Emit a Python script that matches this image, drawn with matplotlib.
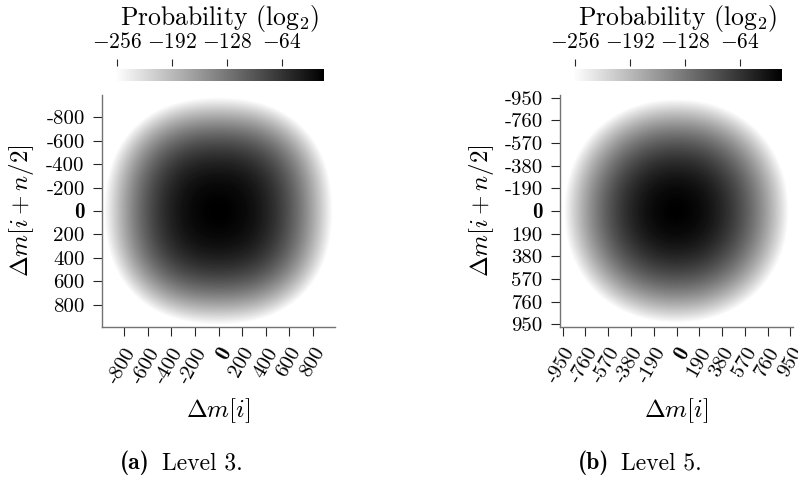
import numpy as np
import matplotlib
matplotlib.use("Agg")
import matplotlib.pyplot as plt

plt.rcParams["font.family"] = "cmr10"
plt.rcParams["mathtext.fontset"] = "cm"
plt.rcParams["axes.unicode_minus"] = False
plt.rcParams["axes.formatter.use_mathtext"] = True

# ---------------- data (log2 probability along the central row) ----------------
offsets_a = [-1000, -900, -800, -700, -600, -500, -400, -300, -200, -100, 0,
             100, 200, 300, 400, 500, 600, 700, 800, 900, 1000]
logp_row_a = [-276, -220, -171, -128, -93, -65, -44.5, -30, -21, -16.5, -15,
              -16.5, -21, -30, -44.5, -65, -93, -128, -171, -220, -276]

offsets_b = [-1045, -950, -855, -760, -665, -570, -475, -380, -285, -190, -95, 0,
             95, 190, 285, 380, 475, 570, 665, 760, 855, 950, 1045]
logp_row_b = [-318, -263, -213, -169, -130, -98, -71, -50, -34, -23, -17, -15,
              -17, -23, -34, -50, -71, -98, -130, -169, -213, -263, -318]

ticks_a = [-800, -600, -400, -200, 0, 200, 400, 600, 800]
ticks_b = [-950, -760, -570, -380, -190, 0, 190, 380, 570, 760, 950]
cbar_ticks = [-256, -192, -128, -64]
cbar_labels = ["$-256$", "$-192$", "$-128$", "$-64$"]
vmin, vmax = -258, -15
captions = [("(a)", "Level 3."), ("(b)", "Level 5.")]

W, H = 798, 487
fig = plt.figure(figsize=(W / 100, H / 100), dpi=100)


def px(left, top, right, bottom):
    return [left / W, 1 - bottom / H, (right - left) / W, (bottom - top) / H]


def field(row):
    r = np.asarray(row, dtype=float)
    centre = r.max()
    return r[:, None] + r[None, :] - centre


panels = [
    dict(off=offsets_a, row=logp_row_a, ticks=ticks_a, lim=990,
         ax=(102, 95, 335, 327), cax=(115, 69, 324, 81),
         ylab_x=22, cap_tag=120, cap_txt=162),
    dict(off=offsets_b, row=logp_row_b, ticks=ticks_b, lim=972,
         ax=(560, 95, 793, 327), cax=(573, 69, 782, 81),
         ylab_x=481, cap_tag=578, cap_txt=621),
]

spine_col = "0.45"
tick_col = "0.15"

for i, p in enumerate(panels):
    ax = fig.add_axes(px(*p["ax"]))
    Z = field(p["row"])
    off = np.asarray(p["off"], dtype=float)
    h = (off[1] - off[0]) / 2
    cmap = plt.get_cmap("gray_r").copy()
    cmap.set_under("white")
    im = ax.imshow(Z, cmap=cmap, vmin=vmin, vmax=vmax,
                   extent=[off[0] - h, off[-1] + h, off[-1] + h, off[0] - h],
                   origin="upper", interpolation="bicubic",
                   interpolation_stage="data", aspect="auto")
    lim = p["lim"]
    ax.set_xlim(-lim, lim)
    ax.set_ylim(lim, -lim)
    for s in ("top", "right"):
        ax.spines[s].set_visible(False)
    for s in ("left", "bottom"):
        ax.spines[s].set_color(spine_col)
        ax.spines[s].set_linewidth(1.0)
    labels = [f"{t}" for t in p["ticks"]]
    ax.set_xticks(p["ticks"])
    ax.set_xticklabels(labels, rotation=60, ha="right", va="top",
                       rotation_mode="anchor", fontsize=15)
    ax.set_yticks(p["ticks"])
    ax.set_yticklabels(labels, fontsize=15)
    for lab in ax.get_xticklabels() + ax.get_yticklabels():
        if lab.get_text() == "0":
            lab.set_family("cmb10")
    ax.tick_params(axis="both", direction="out", length=6.5, width=0.8,
                   color=tick_col)
    ax.tick_params(axis="x", pad=6)
    ax.tick_params(axis="y", pad=6)
    ax.set_xlabel(r"$\Delta m[i]$", fontsize=18)
    ax.set_ylabel(r"$\Delta m[i+n/2]$", fontsize=18)
    l, t, r, b = p["ax"]
    ax.xaxis.set_label_coords(((l + r) / 2 - l) / (r - l), (b - 411) / (b - t))
    ax.yaxis.set_label_coords((p["ylab_x"] - l) / (r - l), (b - 211) / (b - t))
    ax.xaxis.label.set_va("center")
    ax.yaxis.label.set_va("center")

    # colour bar
    cax = fig.add_axes(px(*p["cax"]))
    cb = fig.colorbar(im, cax=cax, orientation="horizontal")
    cb.outline.set_visible(False)
    cax.xaxis.set_ticks_position("top")
    cax.xaxis.set_label_position("top")
    cax.spines["top"].set_position(("outward", 2.5))
    cb.set_ticks(cbar_ticks)
    cb.set_ticklabels(cbar_labels)
    cax.tick_params(axis="x", direction="out", length=5, width=0.8,
                    color=tick_col, labelsize=15.5, pad=5)
    cl, ct, cr, cbm = p["cax"]
    fig.text(((cl + cr) / 2) / W, 1 - 18 / H, r"Probability (log$_2$)",
             ha="center", va="center", fontsize=18.5)

    # caption
    tag, txt = captions[i]
    fig.text(p["cap_tag"] / W, 1 - 463 / H, tag, ha="left",
             va="center", fontsize=17, family="cmb10")
    fig.text(p["cap_txt"] / W, 1 - 463 / H, txt, ha="left", va="center",
             fontsize=17)

fig.savefig("out.png", dpi=100)
